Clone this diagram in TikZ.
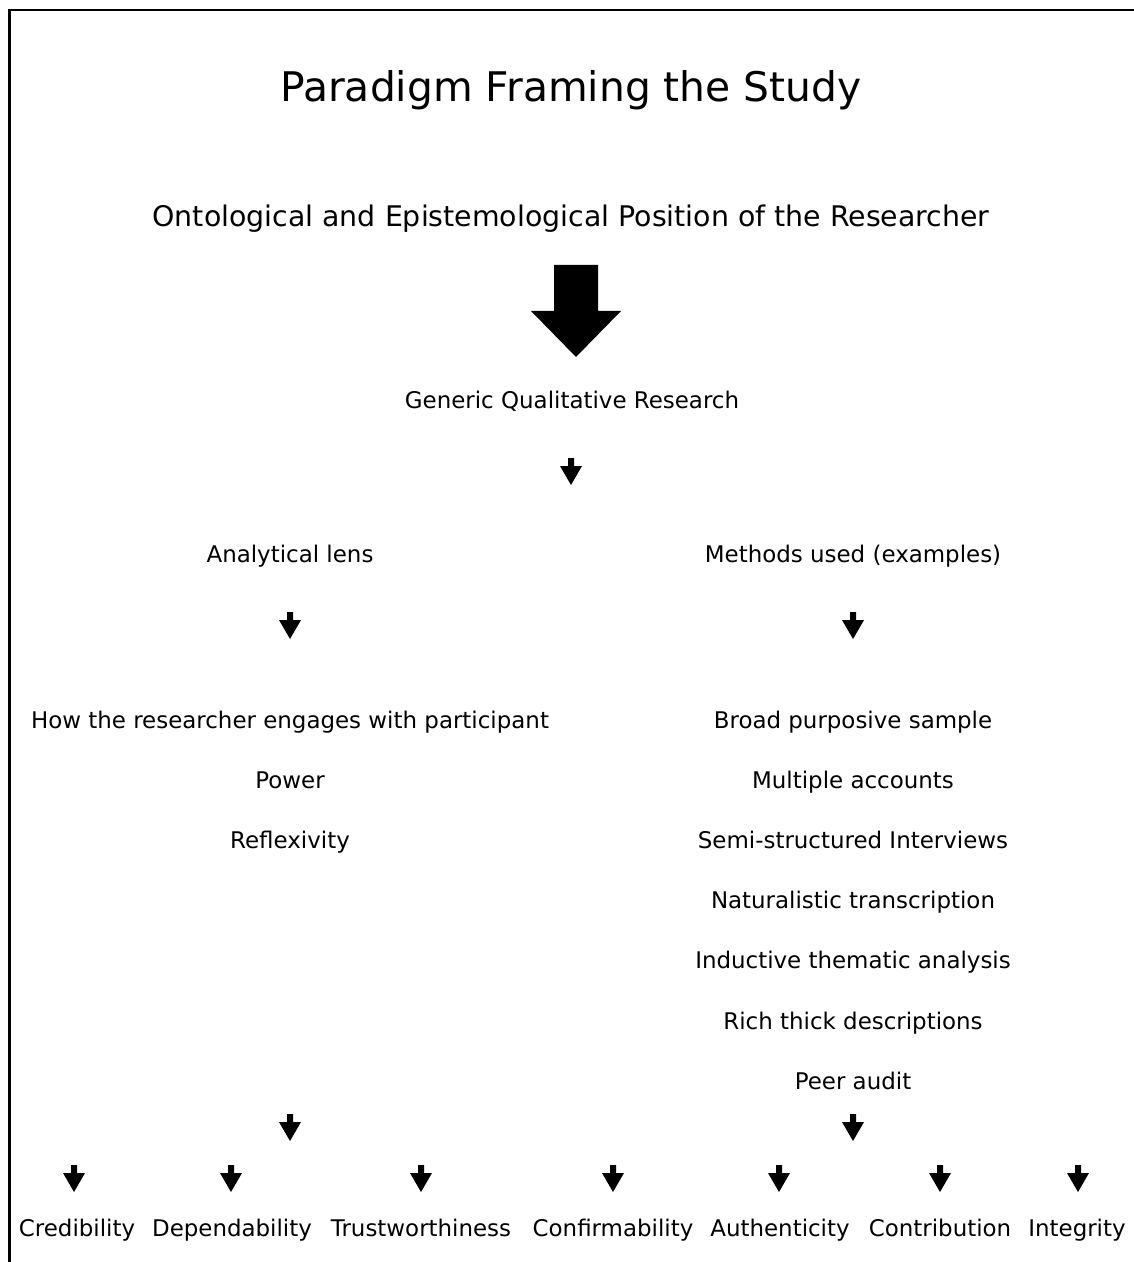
\documentclass[tikz,border=0pt]{standalone}
\usepackage{fontspec}
\setmainfont{DejaVu Sans}
\begin{document}
\begin{tikzpicture}[x=0.75pt,y=-0.75pt,
  txt/.style={inner sep=0pt, anchor=base, font=\fontsize{17.2}{20}\selectfont},
  ttl/.style={inner sep=0pt, anchor=base, font=\fontsize{30.6}{36}\selectfont},
  sub/.style={inner sep=0pt, anchor=base, font=\fontsize{21.3}{25}\selectfont},
  smallarrow/.pic={\fill (-3,0) -- (3,0) -- (3,8) -- (11,8) -- (0,27) -- (-11,8) -- (-3,8) -- cycle;},
  bigarrow/.pic={\fill (-22,0) -- (22,0) -- (22,46) -- (45,46) -- (0,92) -- (-45,46) -- (-22,46) -- cycle;}
]
\useasboundingbox (0,0) rectangle (1133,1262);
\draw[line width=1.6pt] (9.5,1300) -- (9.5,10) -- (1200,10);

\node[ttl] (title) at (571,102) {Paradigm Framing the Study};
\node[sub] (onto) at (571,227) {Ontological and Epistemological Position of the Researcher};
\pic at (576,265) {bigarrow};
\node[txt] (gqr) at (572,408) {Generic Qualitative Research};
\pic at (571,458) {smallarrow};

\node[txt] (lens) at (290,562) {Analytical lens};
\node[txt] (meth) at (853,562) {Methods used (examples)};
\pic at (290,612) {smallarrow};
\pic at (853,612) {smallarrow};

\node[txt] (l1) at (290,728) {How the researcher engages with participant};
\node[txt] (l2) at (290,788) {Power};
\node[txt] (l3) at (290,848) {Reflexivity};

\node[txt] (r1) at (853,728) {Broad purposive sample};
\node[txt] (r2) at (853,788) {Multiple accounts};
\node[txt] (r3) at (853,848) {Semi-structured Interviews};
\node[txt] (r4) at (853,908) {Naturalistic transcription};
\node[txt] (r5) at (853,968) {Inductive thematic analysis};
\node[txt] (r6) at (853,1029) {Rich thick descriptions};
\node[txt] (r7) at (853,1089) {Peer audit};

\pic at (290,1114) {smallarrow};
\pic at (853,1114) {smallarrow};

\foreach \x in {74,231,421,613,779,940,1078} \pic at (\x,1165) {smallarrow};

\node[txt] (b1) at (77,1236) {Credibility};
\node[txt] (b2) at (232,1236) {Dependability};
\node[txt] (b3) at (421,1236) {Trustworthiness};
\node[txt] (b4) at (613,1236) {Confirmability};
\node[txt] (b5) at (780,1236) {Authenticity};
\node[txt] (b6) at (940,1236) {Contribution};
\node[txt] (b7) at (1077,1236) {Integrity};
\end{tikzpicture}
\end{document}
